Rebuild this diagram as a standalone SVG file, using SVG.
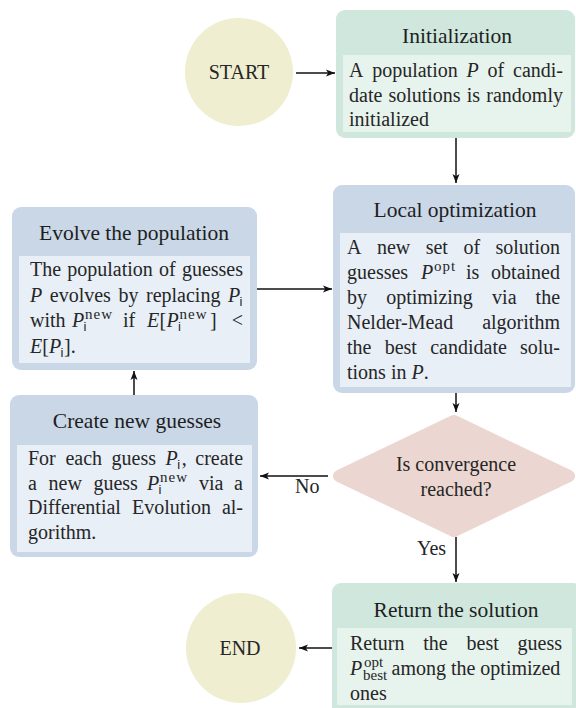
<svg xmlns="http://www.w3.org/2000/svg" width="576" height="708" viewBox="0 0 576 708">
<style>
text{font-family:"Liberation Serif","Times New Roman",serif;fill:#262626}
.t{font-size:21.5px;text-anchor:middle;fill:#1e1e1e}
.b{font-size:20px}
.i{font-style:italic}
.sp{font-size:15px;letter-spacing:1px}
.sb{font-family:"Liberation Sans",Arial,sans-serif;font-size:13px}
.sbs{font-size:15px}
.c{text-anchor:middle}
.gO{fill:#cfe7dc}
.gI{fill:#e7f3ed}
.bO{fill:#c9d7e7}
.bI{fill:#e8eff7}
.circ{fill:#efeed0}
.dia{fill:#ebd6d1;stroke:#ebd6d1;stroke-width:12;stroke-linejoin:round}
.ln{stroke:#111;stroke-width:1.5;fill:none;marker-end:url(#ah)}
</style>
<defs>
<marker id="ah" markerUnits="userSpaceOnUse" markerWidth="10" markerHeight="8" refX="9" refY="4" orient="auto">
<path d="M0,0.5 L9,4 L0,7.5 L2.2,4 z" fill="#111"/>
</marker>
</defs>

<g id="start">
<circle class="circ" cx="239" cy="72" r="54"/>
<text class="b c" x="239" y="79">START</text>
</g>

<g id="init">
<rect class="gO" x="336" y="10" width="239" height="128" rx="9"/>
<rect class="gI" x="343" y="55" width="228" height="77"/>
<text class="t" x="457" y="43">Initialization</text>
<text class="b" y="77"><tspan x="349">A</tspan><tspan x="372.2">population</tspan><tspan class="i" x="466.6">P</tspan><tspan x="487.6">of</tspan><tspan x="513">candi-</tspan></text>
<text class="b" y="102"><tspan x="349">date</tspan><tspan x="388.4">solutions</tspan><tspan x="466.7">is</tspan><tspan x="486.3">randomly</tspan></text>
<text class="b" x="349" y="126">initialized</text>
</g>

<g id="local">
<rect class="bO" x="333" y="185" width="242" height="208" rx="9"/>
<rect class="bI" x="340" y="233" width="231" height="154"/>
<text class="t" x="455" y="217">Local optimization</text>
<text class="b" y="254"><tspan x="347">A</tspan><tspan x="376.9">new</tspan><tspan x="425.7">set</tspan><tspan x="463.4">of</tspan><tspan x="495.5">solution</tspan></text>
<text class="b" y="279"><tspan x="347">guesses</tspan><tspan class="i" x="420.9">P</tspan><tspan class="sp" x="433.9" y="271">opt</tspan><tspan x="465.9" y="279">is</tspan><tspan x="491.1">obtained</tspan></text>
<text class="b" y="304"><tspan x="347">by</tspan><tspan x="386.2">optimizing</tspan><tspan x="492.1">via</tspan><tspan x="535.6">the</tspan></text>
<text class="b" y="329"><tspan x="347">Nelder-Mead</tspan><tspan x="482.2">algorithm</tspan></text>
<text class="b" y="354"><tspan x="347">the</tspan><tspan x="384.7">best</tspan><tspan x="430.2">candidate</tspan><tspan x="520">solu-</tspan></text>
<text class="b" x="347" y="379">tions in <tspan class="i">P</tspan>.</text>
</g>

<g id="evolve">
<rect class="bO" x="12" y="207" width="245" height="163" rx="9"/>
<rect class="bI" x="19" y="256" width="231" height="107"/>
<text class="t" x="134" y="240">Evolve the population</text>
<text class="b" y="276"><tspan x="30">The</tspan><tspan x="67.3">population</tspan><tspan x="159.1">of</tspan><tspan x="181.9">guesses</tspan></text>
<text class="b" y="302"><tspan class="i" x="30">P</tspan><tspan x="49.8">evolves</tspan><tspan x="118.4">by</tspan><tspan x="146">replacing</tspan><tspan class="i" x="228">P</tspan><tspan class="sb" x="239.5" y="306">i</tspan></text>
<text class="b" y="327"><tspan x="30">with</tspan><tspan class="i" x="72">P</tspan><tspan class="sp" x="85" y="319">new</tspan><tspan class="sb" x="83.5" y="331">i</tspan><tspan x="123" y="327">if</tspan><tspan class="i" x="147">E</tspan><tspan x="159.5">[</tspan><tspan class="i" x="166.5">P</tspan><tspan class="sp" x="179.5" y="319">new</tspan><tspan class="sb" x="178" y="331">i</tspan><tspan x="210" y="327">]</tspan><tspan x="231.7">&lt;</tspan></text>
<text class="b" y="353"><tspan class="i" x="30">E</tspan><tspan x="42.2">[</tspan><tspan class="i" x="48.9">P</tspan><tspan class="sb" x="60.5" y="357">i</tspan><tspan x="64" y="353">].</tspan></text>
</g>

<g id="create">
<rect class="bO" x="10" y="395" width="248" height="162" rx="9"/>
<rect class="bI" x="17" y="445" width="235" height="107"/>
<text class="t" x="137" y="428">Create new guesses</text>
<text class="b" y="465"><tspan x="28">For</tspan><tspan x="65.4">each</tspan><tspan x="111.6">guess</tspan><tspan class="i" x="165.6">P</tspan><tspan class="sb" x="177.3" y="469">i</tspan><tspan x="181.8" y="465">,</tspan><tspan x="195.3">create</tspan></text>
<text class="b" y="490"><tspan x="28">a</tspan><tspan x="48.5">new</tspan><tspan x="93.4">guess</tspan><tspan class="i" x="147">P</tspan><tspan class="sp" x="160" y="482">new</tspan><tspan class="sb" x="158.5" y="494">i</tspan><tspan x="199" y="490">via</tspan><tspan x="234.1">a</tspan></text>
<text class="b" y="514"><tspan x="28">Differential</tspan><tspan x="132.1">Evolution</tspan><tspan x="221.9">al-</tspan></text>
<text class="b" x="28" y="539">gorithm.</text>
</g>

<g id="decision">
<polygon class="dia" points="454,421 569,476 454,531 339,476"/>
<text class="b c" x="456" y="471">Is convergence</text>
<text class="b c" x="456" y="496">reached?</text>
</g>

<g id="return">
<rect class="gO" x="332" y="583" width="250" height="135" rx="9"/>
<rect class="gI" x="337" y="628" width="235" height="77"/>
<text class="t" x="456" y="617">Return the solution</text>
<text class="b" y="650"><tspan x="350">Return</tspan><tspan x="423.3">the</tspan><tspan x="466.6">best</tspan><tspan x="517.6">guess</tspan></text>
<text class="b" y="675"><tspan class="i" x="350">P</tspan><tspan class="sbs" x="364" y="667">opt</tspan><tspan class="sbs" x="363" y="680">best</tspan><tspan x="391.5" y="675">among the optimized</tspan></text>
<text class="b" x="350" y="700">ones</text>
</g>

<g id="end">
<circle class="circ" cx="241" cy="648" r="55"/>
<text class="b c" x="240" y="655">END</text>
</g>

<g id="connectors">
<line class="ln" x1="296" y1="73" x2="335" y2="73"/>
<line class="ln" x1="456" y1="138" x2="456" y2="183"/>
<line class="ln" x1="257" y1="289" x2="332" y2="289"/>
<line class="ln" x1="456" y1="393" x2="456" y2="412"/>
<line class="ln" x1="328" y1="476" x2="260" y2="476"/>
<line class="ln" x1="134" y1="395" x2="134" y2="371"/>
<line class="ln" x1="456" y1="537" x2="456" y2="582"/>
<line class="ln" x1="332" y1="648" x2="299" y2="648"/>
<text class="b" x="295" y="493">No</text>
<text class="b" x="417" y="555">Yes</text>
</g>
</svg>
